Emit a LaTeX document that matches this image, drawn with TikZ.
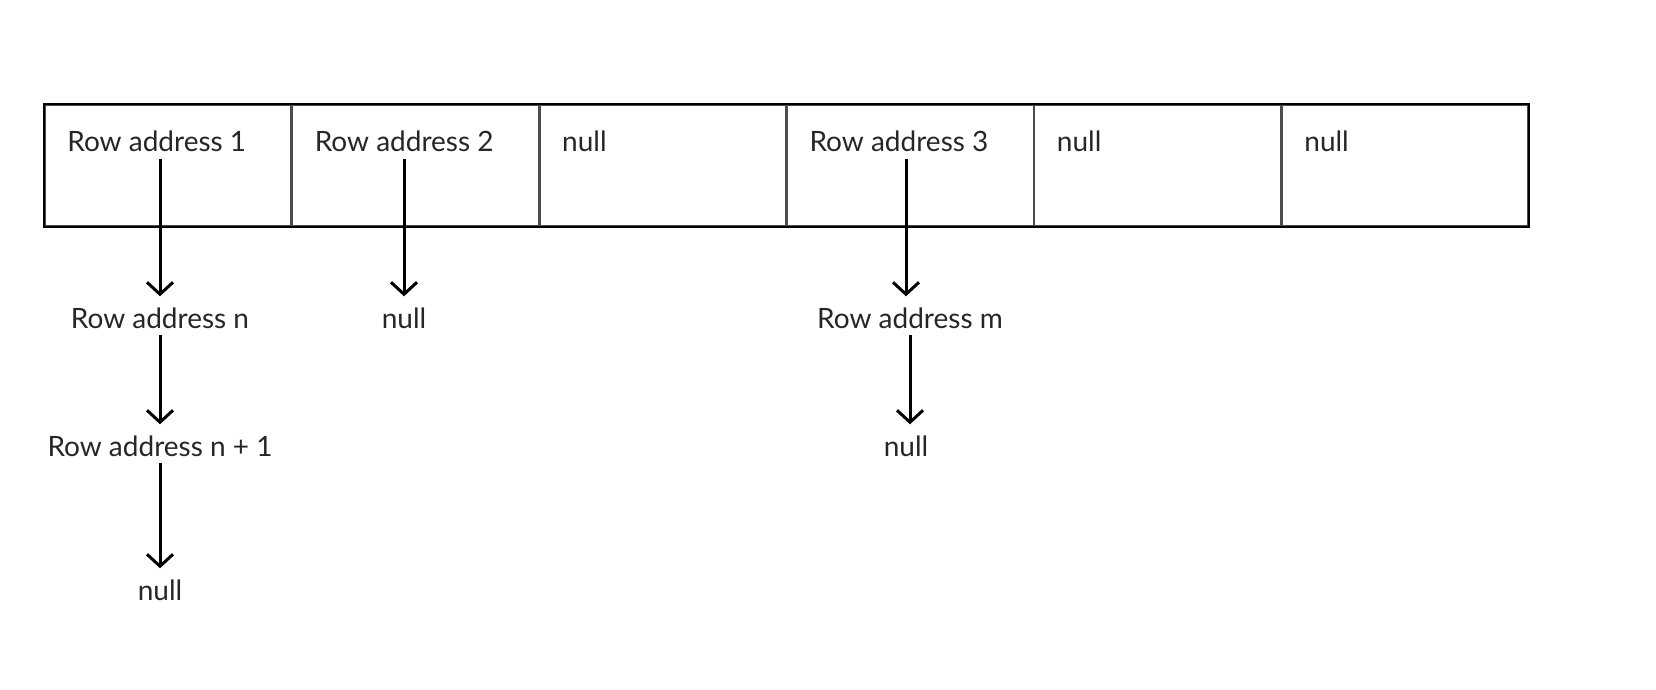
\documentclass[tikz,border=0pt]{standalone}
\usepackage{fontspec}
\setmainfont{Lato}
\usetikzlibrary{arrows.meta}
\usetikzlibrary{positioning}
\usetikzlibrary{calc}

\begin{document}
\begin{tikzpicture}[x=0.5pt,y=-0.5pt,
	cell/.style={draw=black!70,line width=0.7pt,minimum width=123pt,minimum height=60.5pt,inner sep=0pt},
	txt/.style={font=\fontsize{14pt}{17pt}\selectfont,text=black!85},
	link/.style={line width=1.5pt,-{Straight Barb[length=6pt,width=13pt,line width=1.5pt]}}]
	\useasboundingbox (0,0) rectangle (1656,690);
	%Table
	\node [cell] (c1) at (168,165.5) {};
	\foreach \i [count=\j from 2] in {1,...,5}
		\node [cell,right=0pt of c\i] (c\j) {};
	\draw [line width=1.1pt] (c1.north west) rectangle (c6.south east);
	%Cell texts
	\node [txt,anchor=base west] (t1) at ($(c1.north west)+(16,47)$) {Row address 1};
	\node [txt,anchor=base west] (t2) at ($(c2.north west)+(16,47)$) {Row address 2};
	\node [txt,anchor=base west] (t3) at ($(c3.north west)+(16,47)$) {null};
	\node [txt,anchor=base west] (t4) at ($(c4.north west)+(16,47)$) {Row address 3};
	\node [txt,anchor=base west] (t5) at ($(c5.north west)+(16,47)$) {null};
	\node [txt,anchor=base west] (t6) at ($(c6.north west)+(16,47)$) {null};
	%Lists
	\node [txt,anchor=base] (rn) at (160,328) {Row address n};
	\node [txt,anchor=base] (rn1) at (160,456) {Row address n + 1};
	\node [txt,anchor=base] (null1) at (160,600) {null};
	\node [txt,anchor=base] (null2) at (404,328) {null};
	\node [txt,anchor=base] (rm) at (910,328) {Row address m};
	\node [txt,anchor=base] (null3) at (906,456) {null};
	%Arrows
	\draw [link,shorten >=2pt] (t1.south -| rn.north) to (rn.north);
	\draw [link,shorten >=2pt] (rn.south) to (rn1.north);
	\draw [link,shorten >=2pt] (rn1.south) to (null1.north);
	\draw [link,shorten >=2pt] (t2.south -| null2.north) to (null2.north);
	\draw [link,shorten >=2pt] (t4.south -| null3.north) to (null3.north |- rm.north);
	\draw [link,shorten >=2pt] (rm.south) to (rm.south |- null3.north);
\end{tikzpicture}
\end{document}
